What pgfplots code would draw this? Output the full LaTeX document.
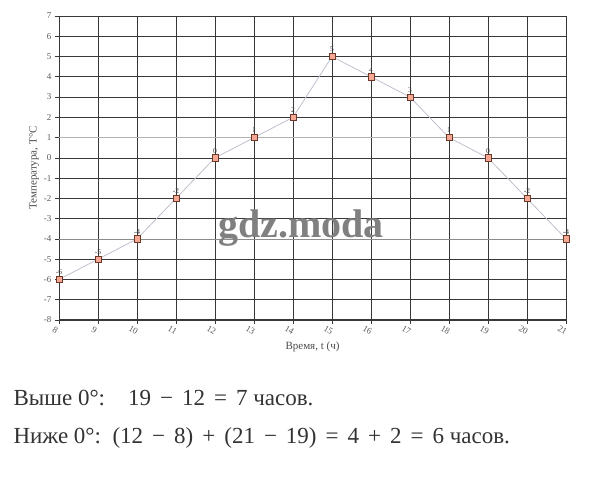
\documentclass[border=0pt]{standalone}
\usepackage{fontspec}
\setmainfont{Liberation Serif}
\usepackage{pgfplots}
\pgfplotsset{compat=1.18}
\definecolor{mfill}{RGB}{245,168,148}
\definecolor{medge}{RGB}{110,55,40}
\definecolor{lcol}{RGB}{195,190,205}
\definecolor{gridc}{RGB}{55,55,60}
\newcommand{\op}[1]{\hspace{9pt}#1\hspace{9pt}}
\begin{document}
\begin{tikzpicture}
\path[use as bounding box] (0pt,0pt) rectangle (607pt,490pt);
\begin{axis}[
  at={(59pt,170pt)}, anchor=south west, scale only axis,
  width=507pt, height=304pt,
  xmin=8, xmax=21, ymin=-8, ymax=7,
  xtick={8,...,21}, ytick={-8,...,7},
  grid=major, major grid style={gridc, line width=0.7pt},
  axis line style={gridc, line width=0.7pt},
  xtick pos=bottom, ytick pos=left, tick align=outside,
  major tick length=4pt, tick style={gridc, line width=0.7pt},
  tick label style={font=\fontsize{9}{9}\selectfont, text=black!65},
  xticklabel style={rotate=-30, anchor=north, yshift=-3pt, inner sep=1pt},
  /pgf/number format/assume math mode=true,
  xlabel={Время, t (ч)},
  ylabel={Температура, T°C},
  label style={font=\fontsize{11}{11}\selectfont, text=black!70},
  xlabel style={yshift=-2pt},
  ylabel style={yshift=-2pt},
  nodes near coords,
  every node near coord/.append style={font=\fontsize{7.5}{7.5}\selectfont, text=black!75, anchor=south, yshift=1pt},
  clip=false,
]
\draw[black!30, line width=0.8pt] (axis cs:8,1) -- (axis cs:21,1);
\draw[black!45, line width=0.8pt] (axis cs:8,-4) -- (axis cs:21,-4);
\addplot[lcol, line width=0.8pt, mark=square*, mark size=3.2pt,
  mark options={fill=mfill, draw=medge, line width=0.6pt}]
  coordinates {(8,-6) (9,-5) (10,-4) (11,-2) (12,0) (13,1) (14,2) (15,5) (16,4) (17,3) (18,1) (19,0) (20,-2) (21,-4)};
\draw[gridc, line width=2.5pt] (axis cs:8,-8) -- (axis cs:21,-8);
\end{axis}
\node[font=\bfseries\fontsize{40}{40}\selectfont, text=black!50] at (301pt,262pt) {gdz.moda};
\node[anchor=base west, font=\fontsize{23}{23}\selectfont, text=black!80] at (10pt,85pt) {Выше 0°:\quad 19\op{−}12\op{=}7 часов.};
\node[anchor=base west, font=\fontsize{23}{23}\selectfont, text=black!80] at (10pt,47pt) {Ниже 0°:\enspace (12\op{−}8)\op{+}(21\op{−}19)\op{=}4\op{+}2\op{=}6 часов.};
\end{tikzpicture}
\end{document}
